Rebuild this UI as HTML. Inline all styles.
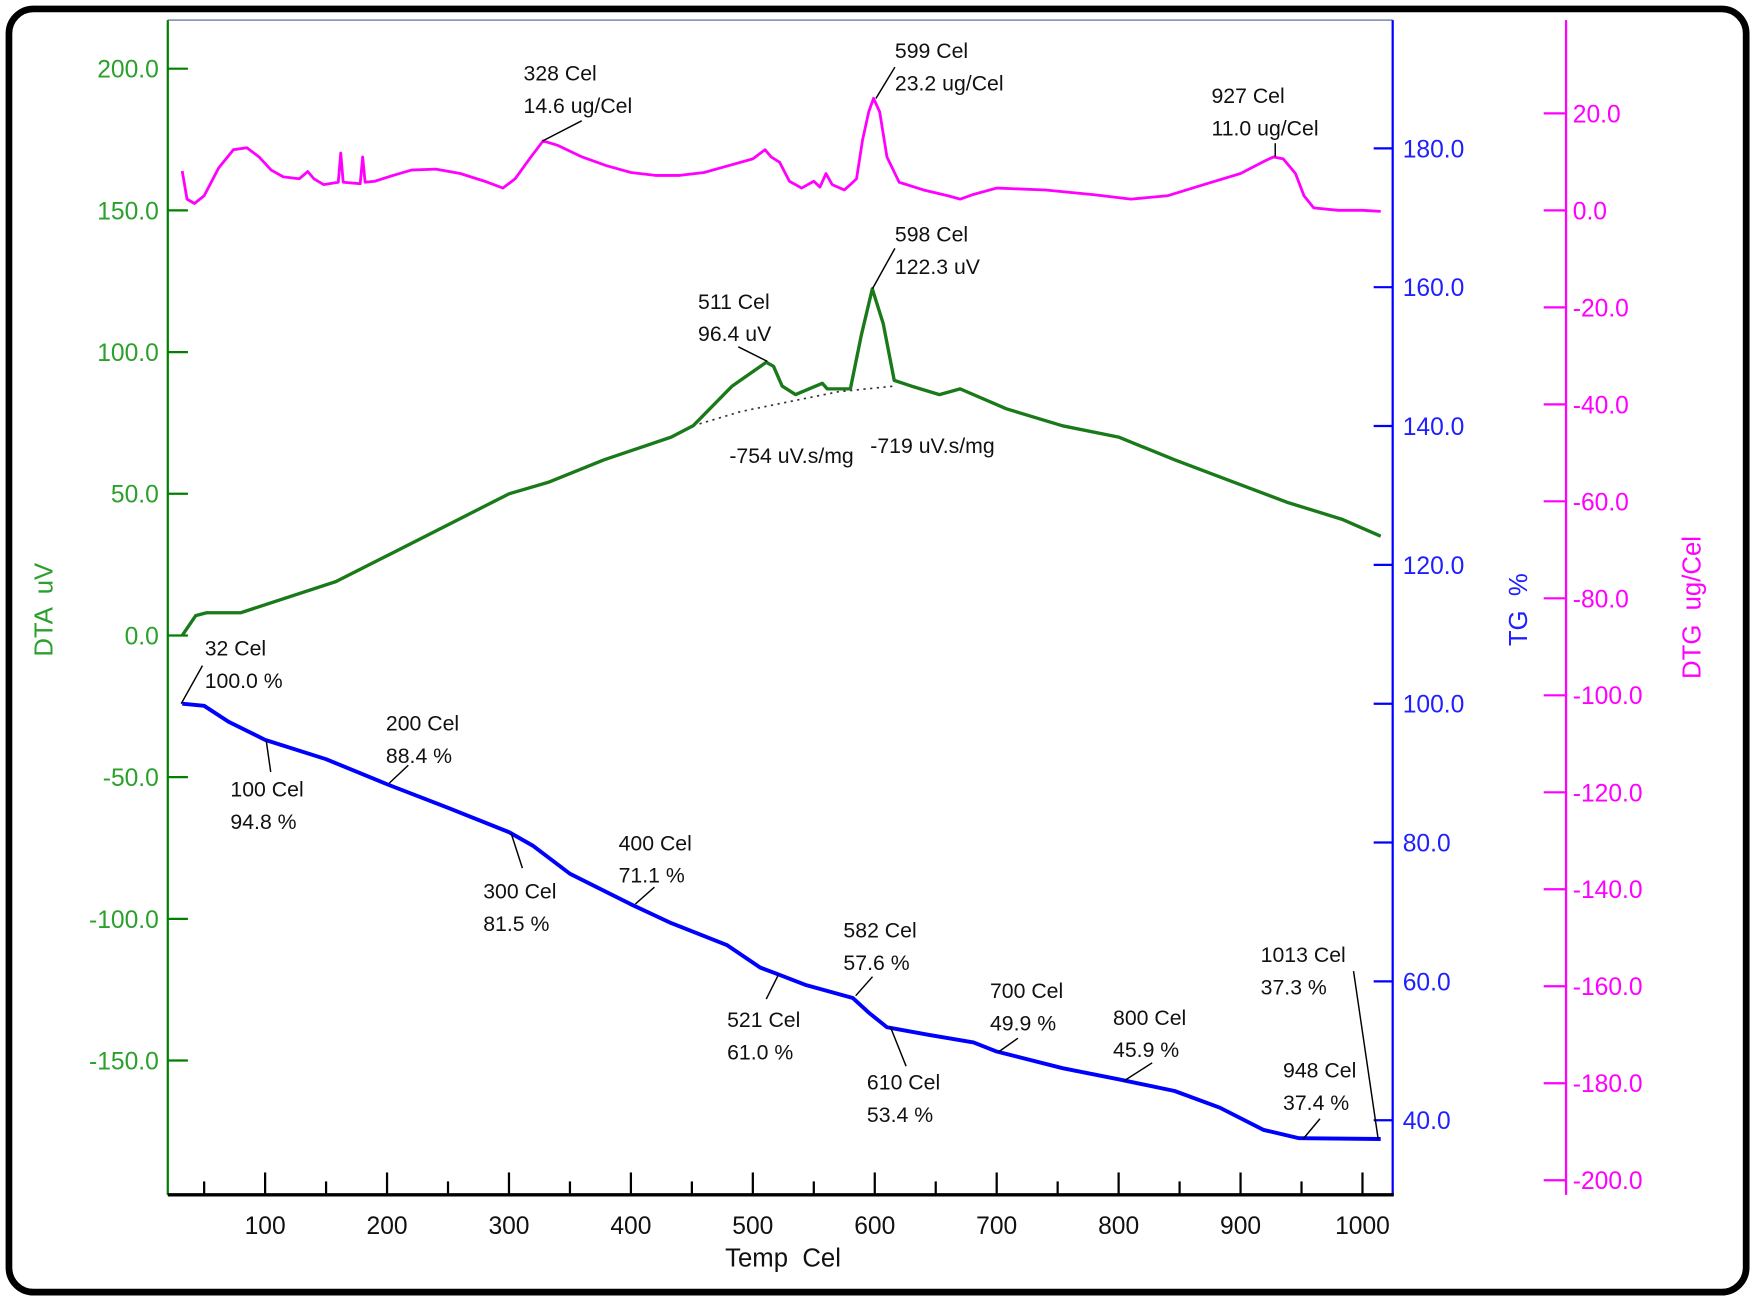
<!DOCTYPE html>
<html><head><meta charset="utf-8"><style>
html,body{margin:0;padding:0;background:#fff;}
svg{display:block;font-family:"Liberation Sans",sans-serif;}
text{white-space:pre;}
</style></head><body>
<svg id="chart" width="1754" height="1300" viewBox="0 0 1568 1162" preserveAspectRatio="none" xmlns="http://www.w3.org/2000/svg">
<rect x="8" y="8" width="1553" height="1147" rx="22" ry="22" fill="#fff" stroke="#000" stroke-width="6"/>
<g id="g"></g>
</svg>
<script>
const xTicks=[100,200,300,400,500,600,700,800,900,1000];
const dtaTicks=[200,150,100,50,0,-50,-100,-150];
const tgTicks=[180,160,140,120,100,80,60,40];
const dtgTicks=[20,0,-20,-40,-60,-80,-100,-120,-140,-160,-180,-200];

const dtgT=[32,36,42,50,62,74,85,95,105,115,128,135,140,148,160,162,164,178,180,182,190,205,220,240,260,280,295,305,318,328,340,360,380,400,420,440,460,480,500,510,515,522,530,540,550,555,560,565,575,580,585,590,595,599,604,610,620,640,660,670,680,700,740,780,810,840,870,900,920,927,935,945,952,960,980,1000,1015];
const dtgV=[8.1,2.3,1.4,3,8.8,12.5,12.9,11,8.3,6.9,6.5,8,6.5,5.3,5.8,11.8,5.8,5.5,11,5.8,6,7.2,8.3,8.5,7.6,6,4.6,6.5,11,14.3,13.4,11,9.2,7.8,7.2,7.2,7.8,9.2,10.6,12.5,11,9.9,6,4.6,6,4.8,7.6,5.3,4.2,5.3,6.5,14.5,20.3,23.1,20.3,11,5.8,4.2,3,2.3,3.2,4.6,4.2,3.2,2.3,3,5.3,7.6,10.2,11,10.6,7.6,3,0.5,0,0,-0.2];

const dtaT=[32,43,52,80,158,204,259,300,332,378,433,451,483,511,517,524,535,557,561,580,589,598,607,616,630,653,670,708,754,800,846,892,938,983,1015];
const dtaV=[0,7,8,8,19,29,41,50,54,62,70,74,88,96.4,95,88,85,89,87,87,106,122.3,110,90,88,85,87,80,74,70,62,54.5,47,41,35];
const baseT=[451,490,530,570,616];
const baseV=[74,79,82.5,86,88];

const tgT=[32,50,70,100,150,200,250,300,320,350,400,433,479,506,521,543,582,595,610,644,681,700,754,800,846,883,919,948,1015];
const tgV=[100,99.7,97.4,94.8,92,88.4,85,81.5,79.5,75.5,71.1,68.4,65.2,62,61,59.5,57.6,55.5,53.4,52.3,51.2,49.9,47.5,45.9,44.2,41.8,38.6,37.4,37.3];

const labelsText=[["328 Cel","14.6 ug/Cel"],["599 Cel","23.2 ug/Cel"],["927 Cel","11.0 ug/Cel"],["598 Cel","122.3 uV"],["511 Cel","96.4 uV"],["32 Cel","100.0 %"],["100 Cel","94.8 %"],["200 Cel","88.4 %"],["300 Cel","81.5 %"],["400 Cel","71.1 %"],["521 Cel","61.0 %"],["582 Cel","57.6 %"],["610 Cel","53.4 %"],["700 Cel","49.9 %"],["800 Cel","45.9 %"],["1013 Cel","37.3 %"],["948 Cel","37.4 %"]];
const annPos=[[468,72,520,108,485,126],[800,52,800,60,783,88],[1083,92,1140,128,1140,140],[800,216,800,222,780,258],[624,276,660,310,686,323],[183,586,181,595,162,629],[206,712,242,690,238,662],[345,653,365,684,348,700],[432,803,467,776,457,745],[553,760,585,793,568,808],[650,918,685,893,696,871],[754,838,780,873,765,890],[775,974,810,953,796,918],[885,892,910,928,893,940],[995,916,1030,950,1005,966],[1127,860,1210,868,1232,1018],[1147,963,1180,1000,1165,1018]];

const X=t=>237+(t-100)*1.09;
const Ydta=v=>568-v*2.533;
const Ytg=v=>629-(v-100)*6.205;
const Ydtg=v=>188-v*4.335;

const NS="http://www.w3.org/2000/svg";
const g=document.getElementById('g');
function mk(tag,at,txt){const e=document.createElementNS(NS,tag);for(const k in at)e.setAttribute(k,at[k]);if(txt!==undefined)e.textContent=txt;g.appendChild(e);return e;}

let e;
e=mk('line',{x1:150,y1:18,x2:1245,y2:18,stroke:'#8899bb','stroke-width':1.5});


e=mk('line',{x1:150,y1:18,x2:150,y2:1068,stroke:'#008000','stroke-width':2});


e=mk('line',{x1:1245,y1:18,x2:1245,y2:1068,stroke:'#0000ff','stroke-width':2});


e=mk('line',{x1:1400,y1:18,x2:1400,y2:1068,stroke:'#ff00ff','stroke-width':2});


e=mk('line',{x1:150,y1:1068,x2:1246,y2:1068,stroke:'#000','stroke-width':3});



for(let t=50;t<=1000;t+=50){
  const major=t%100===0;
  e=mk('line',{x1:X(t),y1:1068,x2:X(t),y2:major?1048:1056,stroke:'#000','stroke-width':2});
  
  
}
xTicks.forEach(t=>{
  e=mk('text',{x:X(t),y:1103,'font-size':22,'text-anchor':'middle',fill:'#111'},String(t));
  
  
});
dtaTicks.forEach(v=>{
  e=mk('line',{x1:150,y1:Ydta(v),x2:168,y2:Ydta(v),stroke:'#008000','stroke-width':2});
  
  
  e=mk('text',{x:142,y:Ydta(v)+8,'font-size':22,'text-anchor':'end',fill:'#2ca02c'},v.toFixed(1));
  
  
});
tgTicks.forEach(v=>{
  e=mk('line',{x1:1228,y1:Ytg(v),x2:1245,y2:Ytg(v),stroke:'#0000ff','stroke-width':2});
  
  
  e=mk('text',{x:1254,y:Ytg(v)+8,'font-size':22,fill:'#2020ff'},v.toFixed(1));
  
  
});
dtgTicks.forEach(v=>{
  e=mk('line',{x1:1380,y1:Ydtg(v),x2:1400,y2:Ydtg(v),stroke:'#ff00ff','stroke-width':2});
  
  
  e=mk('text',{x:1406,y:Ydtg(v)+8,'font-size':22,fill:'#ff00ff'},v.toFixed(1));
  
  
});
e=mk('text',{x:0,y:0,'font-size':23,fill:'#2ca02c','text-anchor':'middle',transform:'translate(47,545) rotate(-90)'},'DTA  uV');


e=mk('text',{x:0,y:0,'font-size':23,fill:'#2020ff','text-anchor':'middle',transform:'translate(1365,545) rotate(-90)'},'TG  %');


e=mk('text',{x:0,y:0,'font-size':23,fill:'#ff00ff','text-anchor':'middle',transform:'translate(1520,543) rotate(-90)'},'DTG  ug/Cel');


e=mk('text',{x:700,y:1132,'font-size':23,'text-anchor':'middle',fill:'#111'},'Temp  Cel');



function pts(ts,vs,yf){return ts.map((t,i)=>X(t).toFixed(1)+','+yf(vs[i]).toFixed(1)).join(' ');}
e=mk('polyline',{points:pts(baseT,baseV,Ydta),fill:'none',stroke:'#333','stroke-width':1.5,'stroke-dasharray':'2,4'});


e=mk('polyline',{points:pts(dtgT,dtgV,Ydtg),fill:'none',stroke:'#ff00ff','stroke-width':2.5,'stroke-linejoin':'round'});


e=mk('polyline',{points:pts(dtaT,dtaV,Ydta),fill:'none',stroke:'#1a7a1a','stroke-width':3,'stroke-linejoin':'round'});


e=mk('polyline',{points:pts(tgT,tgV,Ytg),fill:'none',stroke:'#0000ff','stroke-width':3.5,'stroke-linejoin':'round'});



labelsText.forEach((l,i)=>{
  const p=annPos[i];
  e=mk('line',{x1:p[2],y1:p[3],x2:p[4],y2:p[5],stroke:'#000','stroke-width':1.3});
  
  
  e=mk('text',{x:p[0],y:p[1],'font-size':19,fill:'#111'},l[0]);
  
  
  e=mk('text',{x:p[0],y:p[1]+29,'font-size':19,fill:'#111'},l[1]);
  
  
});
e=mk('text',{x:652,y:414,'font-size':19,fill:'#111'},'-754 uV.s/mg');


e=mk('text',{x:778,y:405,'font-size':19,fill:'#111'},'-719 uV.s/mg');


</script>
</body></html>
